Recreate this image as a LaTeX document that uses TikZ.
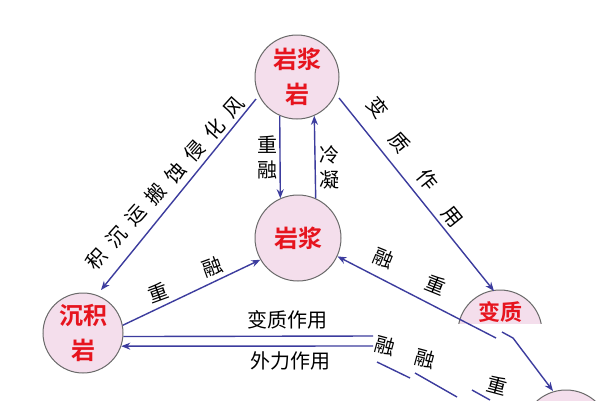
\documentclass[tikz,border=0pt]{standalone}
\usepackage{fontspec}
\newfontfamily\cjk[BoldFont={Noto Sans CJK SC Bold}]{Noto Sans CJK SC}
\usetikzlibrary{arrows.meta}
\definecolor{lineblue}{HTML}{3C3C9E}
\definecolor{pinkfill}{HTML}{F4DEEC}
\definecolor{rimgray}{HTML}{6A6A6A}
\definecolor{rocktext}{HTML}{E6141E}
\tikzset{
  rock/.style={circle, draw=rimgray, line width=1pt, fill=pinkfill, inner sep=0pt,
    font=\cjk\bfseries\fontsize{24}{35}\selectfont, text=rocktext, align=center},
  flow/.style={draw=lineblue, line width=1.4pt},
  arr/.style={flow, -{Stealth[length=9pt,width=7pt]}},
  lab/.style={font=\cjk\fontsize{20}{22}\selectfont, inner sep=0pt, text=black},
}
\begin{document}
\begin{tikzpicture}[x=1pt,y=1pt]
\useasboundingbox[fill=white] (0,0) rectangle (600,-400);

% rocks
\node[rock, minimum size=84pt] (yjy) at (297,-77) {岩浆\\岩};
\node[rock, minimum size=86pt] (yj) at (298,-238) {岩浆};
\node[rock, minimum size=80pt] (cjy) at (83,-333) {沉积\\岩};
\begin{scope}
  \clip (440,-280) rectangle (560,-323);
  \node[rock, minimum size=84pt] (bz) at (500,-332) {};
\end{scope}
\node[font=\cjk\bfseries\fontsize{22}{26}\selectfont, text=rocktext, inner sep=0pt] (bzt) at (500,-312) {变质};
\begin{scope}
  \clip (0,0) rectangle (600,-400);
  \node[rock, minimum size=88pt] (br) at (566,-434) {};
\end{scope}

% coordinates of free ends
\coordinate (a1s) at (339,-98);
\coordinate (a1e) at (494,-291);
\coordinate (a2s) at (256,-99);
\coordinate (a2e) at (101,-290);
\coordinate (a6s) at (496,-338);
\coordinate (h1e) at (373,-336);
\coordinate (h2e) at (373,-346);
\coordinate (c1) at (502,-332);
\coordinate (c2) at (513,-338);
\coordinate (c3) at (553,-391);
\coordinate (s1a) at (377,-362);
\coordinate (s1b) at (410,-378);
\coordinate (s2a) at (415,-373);
\coordinate (s2b) at (457,-397);
\coordinate (s3a) at (472,-390);
\coordinate (s3b) at (490,-400);

% connectors
\draw[arr] (a1s) -- (a1e);
\draw[arr] (a2s) -- (a2e);
\draw[arr] (yjy.-114) -- (yj.114);
\draw[arr] (yj.66) -- (yjy.-66);
\draw[arr] (cjy.11) -- (yj.210);
\draw[arr] (a6s) -- (yj.-25);
\draw[flow] (cjy.-5) -- (h1e);
\draw[arr] (h2e) -- (cjy.-19);
\draw[arr] (c1) -- (c2) -- (c3);
\draw[flow] (s1a) -- (s1b);
\draw[flow] (s2a) -- (s2b);
\draw[flow] (s3a) -- (s3b);

% labels: weathering line
\foreach \ch [count=\i from 0] in {积,沉,运,搬,蚀,侵,化,风}{
  \node[lab, rotate=48] (w\i) at ({97+\i*19.6},{-259+\i*21.6}) {\ch};
}

% metamorphism line
\node[lab, rotate=-51] (m1) at (378,-107) {变};
\node[lab, rotate=-51] (m2) at (400,-143) {质};
\node[lab, rotate=-51] (m3) at (428,-180) {作};
\node[lab, rotate=-51] (m4) at (452,-217) {用};

% vertical labels
\node[lab] (v1) at (267,-145) {重};
\node[lab] (v2) at (267,-170) {融};
\node[lab] (v3) at (329,-155) {冷};
\node[lab] (v4) at (329,-180) {凝};

% remelting labels
\node[lab, rotate=20] (r1) at (158,-293) {重};
\node[lab, rotate=20] (r2) at (212,-267) {融};
\node[lab, rotate=-22] (r3) at (384,-258) {融};
\node[lab, rotate=-22] (r4) at (436,-285) {重};

% horizontal labels
\node[lab] (hl1) at (287,-320) {变质作用};
\node[lab] (hl2) at (290,-361) {外力作用};

% fragments
\node[lab, rotate=-15] (f1) at (385,-346) {融};
\node[lab, rotate=-15] (f2) at (425,-359) {融};
\node[lab, rotate=-15] (f3) at (497,-385) {重};
\end{tikzpicture}
\end{document}
